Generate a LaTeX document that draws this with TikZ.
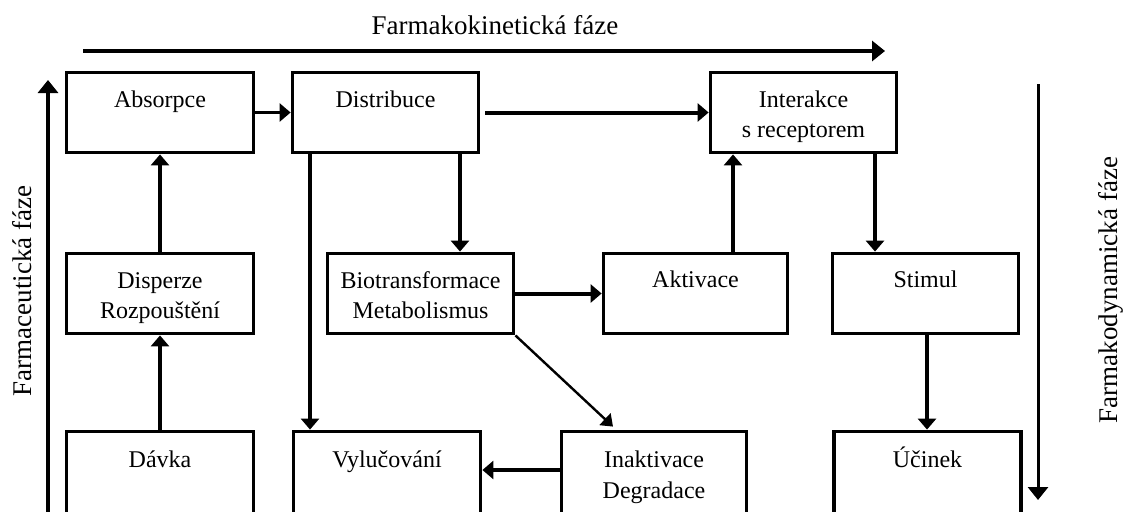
\documentclass[tikz,border=0pt]{standalone}
\usepackage{fontspec}
\setmainfont{Liberation Serif}
\usetikzlibrary{arrows.meta}
\begin{document}
\begin{tikzpicture}[x=1pt,y=-1pt,
  box/.style={draw, line width=3.8pt, inner sep=0pt, minimum width=187pt, minimum height=80pt},
  lowbox/.style={box, minimum height=90pt},
  lbl/.style={anchor=base, inner sep=0pt, font=\fontsize{24}{30}\selectfont},
  axlbl/.style={anchor=base, inner sep=0pt, font=\fontsize{27}{32}\selectfont},
  arr/.style={line width=3.4pt, -{Triangle[width=18pt,length=11pt]}},
  thinarr/.style={line width=2.4pt, -{Triangle[width=16pt,length=11pt]}},
  axarr/.style={line width=3.4pt, -{Triangle[width=20pt,length=13pt]}}]
\useasboundingbox (0,0) rectangle (1123,511);
\clip (0,0) rectangle (1123,511);
% boxes
\node[box] (abs) at (160,112.5) {};
\node[box, minimum width=186pt] (dis) at (385.5,112.5) {};
\node[box, minimum width=186pt] (int) at (803.5,112.5) {};
\node[box] (disp) at (160,293.5) {};
\node[box, minimum width=186pt] (bio) at (420.5,293.5) {};
\node[box, minimum width=184pt] (akt) at (695.5,293.5) {};
\node[box, minimum width=186pt] (sti) at (925.5,293.5) {};
\node[lowbox] (dav) at (160,476.5) {};
\node[lowbox] (vyl) at (387,476.5) {};
\node[lowbox, minimum width=185pt] (ina) at (654,476.5) {};
\node[lowbox] (uci) at (927.5,476.5) {};
% labels
\node[lbl] (tabs) at (160,107) {Absorpce};
\node[lbl] (tdis) at (385.5,107) {Distribuce};
\node[lbl] (tint1) at (803.5,107) {Interakce};
\node[lbl] (tint2) at (803.5,137) {s receptorem};
\node[lbl] (tdisp1) at (160,288) {Disperze};
\node[lbl] (tdisp2) at (160,318) {Rozpouštění};
\node[lbl] (tbio1) at (420.5,288) {Biotransformace};
\node[lbl] (tbio2) at (420.5,318) {Metabolismus};
\node[lbl] (takt) at (695.5,287) {Aktivace};
\node[lbl] (tsti) at (925.5,287) {Stimul};
\node[lbl] (tdav) at (160,467) {Dávka};
\node[lbl] (tvyl) at (387,467) {Vylučování};
\node[lbl] (tina1) at (654,467) {Inaktivace};
\node[lbl] (tina2) at (654,498) {Degradace};
\node[lbl] (tuci) at (927.5,467) {Účinek};
% phase axes
\coordinate (k1) at (83,51);
\coordinate (k2) at (885,51);
\draw[axarr] (k1) -- (k2);
\node[axlbl] (tk) at (495,35) {Farmakokinetická fáze};
\coordinate (c1) at (48,515);
\coordinate (c2) at (48,80);
\draw[axarr] (c1) -- (c2);
\node[axlbl, rotate=90] (tc) at (31,291) {Farmaceutická fáze};
\coordinate (d1) at (1038,84);
\coordinate (d2) at (1038,500);
\draw[axarr, line width=3pt] (d1) -- (d2);
\node[axlbl, rotate=90] (td) at (1117,290) {Farmakodynamická fáze};
% connectors
\draw[arr] (abs.east) -- (dis.west);
\draw[arr, line width=4pt, shorten <=5pt] (dis.east) -- (int.west);
\draw[arr] (disp.north) -- (abs.south);
\draw[arr] (dav.north) -- (disp.south);
\draw[arr, line width=4pt] ([xshift=74.5pt]dis.south) -- ([xshift=74.5pt]dis.south |- bio.north);
\draw[arr] ([xshift=-75.5pt]dis.south) -- ([xshift=-75.5pt]dis.south |- vyl.north);
\draw[arr] ([xshift=37.5pt]akt.north) -- ([xshift=37.5pt]akt.north |- int.south);
\draw[arr] ([xshift=71.5pt]int.south) -- ([xshift=71.5pt]int.south |- sti.north);
\draw[arr, line width=4pt] (bio.east) -- (akt.west);
\draw[thinarr] (bio.south east) -- ([xshift=-41pt,yshift=3pt]ina.north);
\draw[arr] ([xshift=1.5pt]sti.south) -- ([xshift=1.5pt]sti.south |- uci.north);
\draw[arr] ([yshift=6.5pt]ina.west) -- ([yshift=6.5pt]vyl.east);
\end{tikzpicture}
\end{document}
